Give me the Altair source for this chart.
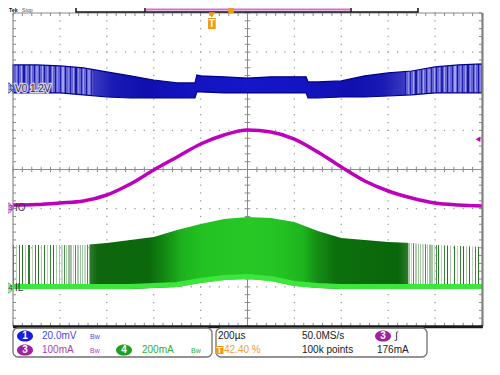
import altair as alt
import pandas as pd

PW, PH = 469, 313          # plot area (10 x 8 divisions)
T_SPAN = 2000.0            # 200 us/div x 10 div

# ---------------- waveform data ----------------
T_HALF_US = [0, 100, 200, 300, 400, 500, 600, 700, 800, 900, 1000,
             1100, 1200, 1300, 1400, 1500, 1600, 1700, 1800, 1900, 2000]

# Ch1 V0 ripple band (mV around the 1.2 V offset)
T_V0_US = [0, 100, 200, 300, 400, 500, 600, 700, 776, 784, 800, 900, 1000,
           1100, 1200, 1250, 1258, 1300, 1400, 1500, 1600, 1700, 1800, 1900, 2000]
V0_TOP_MV = [11.8, 11.8, 11.3, 10.3, 8.2, 6.2, 4.1, 2.6, 2.6, 6.7, 6.2, 5.7, 5.1,
             5.7, 5.7, 5.7, 3.1, 3.1, 3.6, 6.2, 7.7, 8.7, 10.8, 11.8, 12.3]
V0_BOT_MV = [-2.5, -2.5, -2.5, -3.5, -4.6, -5.1, -5.1, -5.1, -5.1, -2.0, -2.0, -2.5, -2.5,
             -2.5, -2.5, -2.5, -5.1, -5.1, -4.6, -4.6, -4.1, -3.5, -2.5, -2.5, -2.5]

# Ch3 I0 output current (mA)
I0_MA = [7.7, 8.9, 12.8, 17.9, 33.2, 61.3, 97.1, 130.4, 163.6, 186.6, 199.4,
         194.2, 176.3, 143.1, 104.8, 69.0, 43.5, 25.6, 12.8, 7.7, 5.1]

# Ch4 IL inductor current envelope (mA)
IL_TOP_MA = [219.8, 219.8, 219.8, 219.8, 230.0, 245.4, 260.7, 296.5, 327.2, 352.7, 362.9,
             357.8, 337.4, 291.4, 255.6, 245.4, 235.1, 230.0, 219.8, 214.7, 209.6]
IL_BOT_MA = [-5.1, -5.1, -5.1, -5.1, -5.1, -5.1, 0.0, 5.1, 25.5, 40.9, 46.0,
             35.8, 10.2, 0.0, -5.1, -5.1, -5.1, -5.1, -5.1, -5.1, -5.1]
IL_BASE_MA = [7.7, 7.7, 7.7, 7.7, 7.7, 7.7, 12.8, 17.9, 38.3, 53.7, 58.8,
              48.6, 23.0, 12.8, 7.7, 7.7, 7.7, 7.7, 7.7, 7.7, 7.7]

CH1_MV_DIV, CH1_POS = 20.0, 2.083
CH3_MA_DIV, CH3_POS = 100.0, -0.984
CH4_MA_DIV, CH4_POS = 200.0, -3.029
TRIG_LEVEL_MA = 176.0
TRIG_POS_PCT = 42.40

FONT = "Liberation Sans, Arial, sans-serif"

# page px -> data units (plot area starts at page 13,13)
def gx(px):
    return (px - 13) / PW * T_SPAN

def gy(py):
    return 4 - (py - 13) / PH * 8

XS = alt.Scale(domain=[0, T_SPAN], nice=False, zero=False)
YS = alt.Scale(domain=[-4, 4], nice=False, zero=False)

def ex(f="x"):
    return alt.X(f"{f}:Q", scale=XS, axis=None)

def ey(f="y"):
    return alt.Y(f"{f}:Q", scale=YS, axis=None)

# ---------------- tables ----------------
v0 = pd.DataFrame({"x": T_V0_US,
                   "top": [CH1_POS + v / CH1_MV_DIV for v in V0_TOP_MV],
                   "bot": [CH1_POS + v / CH1_MV_DIV for v in V0_BOT_MV]})
i0 = pd.DataFrame({"x": T_HALF_US, "y": [CH3_POS + v / CH3_MA_DIV for v in I0_MA]})
il = pd.DataFrame({"x": T_HALF_US,
                   "top": [CH4_POS + v / CH4_MA_DIV for v in IL_TOP_MA],
                   "bot": [CH4_POS + v / CH4_MA_DIV for v in IL_BOT_MA]})
ilb = pd.DataFrame({"x": T_HALF_US, "y": [CH4_POS + v / CH4_MA_DIV for v in IL_BASE_MA]})

minor_x = [i * 40 for i in range(51)]
minor_y = [round(-4 + 0.2 * i, 3) for i in range(41)]
major_x = [200 * i for i in range(1, 10) if i != 5]
major_y = [-3, -2, -1, 1, 2, 3]
dots = pd.DataFrame([(mx, my) for mx in major_x for my in minor_y] +
                    [(mx, my) for my in major_y for mx in minor_x], columns=["x", "y"])

tk = []
for mx in minor_x:
    tk.append((mx, mx, -0.07, 0.07))
    tk.append((mx, mx, 4, 3.92))
    tk.append((mx, mx, -4, -3.92))
for my in minor_y:
    tk.append((988, 1012, my, my))
    tk.append((0, 13, my, my))
    tk.append((1987, 2000, my, my))
tk.append((1000, 1000, -4, 4))
tk.append((0, 2000, 0, 0))
ticks = pd.DataFrame(tk, columns=["x", "x2", "y", "y2"])

frame = pd.DataFrame([
    (0, 0, -4, 4, "#8a8a8a", 1.2),
    (0, 2000, 4, 4, "#8a8a8a", 1.2),
    (2002, 2002, -4, 4, "#808080", 2.2),
    (0, 2004, -4.02, -4.02, "#1a1a1a", 3),
], columns=["x", "x2", "y", "y2", "c", "w"])

def G(stops):
    return alt.Gradient(gradient="linear", x1=0, x2=1, y1=0, y2=0,
                        stops=[alt.GradientStop(offset=min(max(p / PW, 0), 1), color=c) for p, c in stops])

GAP = "rgba(255,255,255,0)"

def stripes(a, b, period, width, colors, gap=GAP):
    out, p, i = [], a, 0
    while p + width <= b:
        c = colors[i % len(colors)]
        out += [(p, gap), (p, c), (p + width, c), (p + width, gap)]
        p += period
        i += 1
    return out

DARKS = ["#2E7A2E", "#B8D2B8", "#3A853A", "#2A742A", "#A9C9A9"]
PALES = ["#A5C5A5", "#C4DAC4", "#4E8E4E", "#B0CDB0", "#9ABF9A"]
green_stops = (stripes(0, 46, 3.1, 1.1, DARKS) + stripes(46, 77, 2.3, 1.4, PALES) +
               [(77, "#2A7A2A"), (85, "#0E660E"), (135, "#0B690B"), (150, "#128512"),
                (168, "#1DB01D"), (190, "#22C222"), (235, "#26C826"), (270, "#22C222"),
                (290, "#1EB41E"), (305, "#148C14"), (322, "#0C700C"), (385, "#0A660A"),
                (395, "#2A7A2A")] +
               stripes(395.5, 425, 2.3, 1.4, PALES) + stripes(425, 469, 3.1, 1.1, DARKS))
BL = ["#18189E", "#8C8CE6", "#2222B4", "#A4A4EC"]
blue_stops = (stripes(0, 80, 2.6, 1.2, BL, "#6464D6") +
              [(80, "#3A3AC4"), (100, "#1A1AB4"), (130, "#1010AE"), (180, "#1414C2"),
               (235, "#1616CA"), (290, "#1414C2"), (340, "#1010AE"), (370, "#1A1AB4"),
               (392, "#3A3AC4")] +
              stripes(392, 469, 2.6, 1.2, BL, "#6464D6"))

layers = []
layers.append(alt.Chart(dots).mark_square(size=1.6, color="#9a9a9a", opacity=1).encode(x=ex(), y=ey()))
layers.append(alt.Chart(ticks).mark_rule(color="#8a8a8a", strokeWidth=1).encode(
    x=ex(), x2=alt.X2("x2:Q"), y=ey(), y2=alt.Y2("y2:Q")))

layers.append(alt.Chart(v0).mark_area(fill=G(blue_stops), fillOpacity=1, stroke="#00008A",
                                      strokeWidth=1.2).encode(x=ex(), y=ey("top"), y2=alt.Y2("bot:Q")))
layers.append(alt.Chart(il).mark_area(fill=G(green_stops), fillOpacity=1).encode(
    x=ex(), y=ey("top"), y2=alt.Y2("bot:Q")))
layers.append(alt.Chart(ilb).mark_line(color="#3CE63C", strokeWidth=5).encode(x=ex(), y=ey()))
layers.append(alt.Chart(i0).mark_line(color="#BE00BE", strokeWidth=3.5, interpolate="monotone").encode(
    x=ex(), y=ey()))

layers.append(alt.Chart(frame).mark_rule().encode(
    x=ex(), x2=alt.X2("x2:Q"), y=ey(), y2=alt.Y2("y2:Q"),
    color=alt.Color("c:N", scale=None), size=alt.Size("w:Q", scale=None)))

# ---------------- annotations ----------------
boxes = pd.DataFrame([
    (gx(76), gx(418), gy(0.5), gy(12), 0),
    (gx(13), gx(212), gy(328), gy(357), 5),
    (gx(216), gx(427), gy(328), gy(357), 5),
], columns=["x", "x2", "y", "y2", "r"])
layers.append(alt.Chart(boxes[boxes.r == 0]).mark_rect(fillOpacity=0, stroke="#111111", strokeWidth=1.5).encode(
    x=ex(), x2=alt.X2("x2:Q"), y=ey(), y2=alt.Y2("y2:Q")))
layers.append(alt.Chart(boxes[boxes.r > 0]).mark_rect(fillOpacity=0, stroke="#707070", strokeWidth=1.3,
                                                      cornerRadius=5).encode(
    x=ex(), x2=alt.X2("x2:Q"), y=ey(), y2=alt.Y2("y2:Q")))
bar_lines = pd.DataFrame([
    (gx(145), gx(145), gy(0), gy(12), "#111111", 1.5),
    (gx(351), gx(351), gy(0), gy(12), "#111111", 1.5),
    (gx(146), gx(350), gy(9.5), gy(9.5), "#D070D0", 2),
], columns=["x", "x2", "y", "y2", "c", "w"])
layers.append(alt.Chart(bar_lines).mark_rule().encode(
    x=ex(), x2=alt.X2("x2:Q"), y=ey(), y2=alt.Y2("y2:Q"),
    color=alt.Color("c:N", scale=None), size=alt.Size("w:Q", scale=None)))

# channel markers on the left edge
TAG = "M-1,-0.7 L0.35,-0.7 L1,0 L0.35,0.7 L-1,0.7 Z"
markers = pd.DataFrame([
    (gx(7), CH1_POS, "1", "#A4B6EC", "#3050C8"),
    (gx(7), CH3_POS, "3", "#E2A4E2", "#C060C0"),
    (gx(7), CH4_POS, "4", "#A4E2A4", "#60C060"),
], columns=["x", "y", "t", "f", "s"])
layers.append(alt.Chart(markers).mark_point(shape=TAG, size=196, filled=True, opacity=1,
                                            strokeWidth=1).encode(
    x=ex(), y=ey(), fill=alt.Fill("f:N", scale=None), stroke=alt.Stroke("s:N", scale=None)))
num = markers.assign(x=gx(10.5))
layers.append(alt.Chart(num).mark_text(font=FONT, fontSize=8, align="center", baseline="middle",
                                       color="#404040").encode(x=ex(), y=ey(), text="t:N"))

# trigger markers
trig_x = TRIG_POS_PCT / 100 * T_SPAN
SHIELD = "M-0.7,-1 L0.7,-1 L0.7,1 L-0.7,1 Z"
trig = pd.DataFrame({"x": [trig_x], "y": [gy(23.5)]})
layers.append(alt.Chart(trig).mark_point(shape=SHIELD, size=121, filled=True, opacity=1,
                                         color="#F29A12").encode(x=ex(), y=ey()))
layers.append(alt.Chart(pd.DataFrame({"x": [trig_x], "y": [gy(15)]})).mark_point(
    shape="triangle-down", size=40, filled=True, opacity=1, color="#F29A12").encode(x=ex(), y=ey()))
layers.append(alt.Chart(trig).mark_text(text="T", font=FONT, fontSize=10, fontWeight="bold",
                                        color="white", align="center", baseline="middle").encode(x=ex(), y=ey()))
rb = pd.DataFrame({"x": [gx(231)], "y": [gy(10.5)]})
layers.append(alt.Chart(rb).mark_point(shape="square", size=30, filled=True, opacity=1,
                                       color="#F29A12").encode(x=ex(), y=ey()))
lvl = pd.DataFrame({"x": [gx(478)], "y": [CH3_POS + TRIG_LEVEL_MA / CH3_MA_DIV]})
layers.append(alt.Chart(lvl).mark_point(shape="triangle-left", size=30, filled=True, opacity=1,
                                        color="#BE00BE").encode(x=ex(), y=ey()))

# channel labels (V0 gets a light halo, as it sits on the ripple band)
lab = pd.DataFrame([("V0 1.2V", gx(15), gy(89))], columns=["t", "x", "y"])
layers.append(alt.Chart(lab).mark_text(font=FONT, fontSize=10, align="left", baseline="middle",
                                       color="#D4D4F4", stroke="#D4D4F4", strokeWidth=2.5).encode(
    x=ex(), y=ey(), text="t:N"))

TEXTS = [
    ("V0 1.2V", 15, 89, "#303030", 10),
    ("IO", 15, 208, "#303030", 10),
    ("IL", 15, 288, "#303030", 10),
    ("20.0mV", 42, 336, "#4848F0", 10),
    ("100mA", 42, 350, "#B040B0", 10),
    ("200mA", 142, 350, "#30B030", 10),
    ("200µs", 218, 336, "#202020", 10),
    ("42.40 %", 224, 350, "#F0A030", 10),
    ("50.0MS/s", 302, 336, "#202020", 10),
    ("100k points", 302, 350, "#202020", 10),
    ("176mA", 377, 350, "#202020", 10),
    ("∫", 395, 336, "#202020", 10),
    ("Bw", 90, 337, "#4848F0", 7),
    ("Bw", 90, 351, "#B040B0", 7),
    ("Bw", 191, 351, "#30B030", 7),
]
tx = pd.DataFrame([(t, gx(px), gy(py), c, s) for t, px, py, c, s in TEXTS],
                  columns=["t", "x", "y", "c", "s"])
layers.append(alt.Chart(tx).mark_text(font=FONT, align="left", baseline="middle").encode(
    x=ex(), y=ey(), text="t:N", color=alt.Color("c:N", scale=None), size=alt.Size("s:Q", scale=None)))

# top-left status, squeezed into the strip that lies inside the page
top_b = pd.DataFrame({"t": ["Tek"], "x": [gx(9)], "y": [gy(13.3)]})
top_n = pd.DataFrame({"t": ["Stop"], "x": [gx(22)], "y": [gy(13.3)]})
layers.append(alt.Chart(top_b).mark_text(font=FONT, fontSize=5.2, fontWeight="bold", align="left",
                                         baseline="bottom", color="#111111").encode(x=ex(), y=ey(), text="t:N"))
layers.append(alt.Chart(top_n).mark_text(font=FONT, fontSize=5.2, align="left", baseline="bottom",
                                         color="#505050").encode(x=ex(), y=ey(), text="t:N"))

# channel badges in the readout
ELL = "M-1,0 A1,0.7 0 1,0 1,0 A1,0.7 0 1,0 -1,0 Z"
badges = pd.DataFrame([
    ("1", gx(25), gy(336), "#1C1CE0"),
    ("3", gx(25), gy(350), "#A020A0"),
    ("4", gx(124), gy(350), "#1FA01F"),
    ("3", gx(383), gy(336), "#A020A0"),
], columns=["t", "x", "y", "f"])
layers.append(alt.Chart(badges).mark_point(shape=ELL, size=256, filled=True, opacity=1).encode(
    x=ex(), y=ey(), fill=alt.Fill("f:N", scale=None)))
layers.append(alt.Chart(badges).mark_text(font=FONT, fontSize=10, fontWeight="bold", color="white",
                                          align="center", baseline="middle").encode(x=ex(), y=ey(), text="t:N"))
tbox = pd.DataFrame({"x": [gx(219.5)], "y": [gy(350)]})
layers.append(alt.Chart(tbox).mark_point(shape="square", size=64, filled=True, opacity=1,
                                         color="#F29A12").encode(x=ex(), y=ey()))
layers.append(alt.Chart(tbox).mark_text(text="T", font=FONT, fontSize=9, fontWeight="bold", color="white",
                                        align="center", baseline="middle").encode(x=ex(), y=ey()))

chart = alt.layer(*layers).properties(
    width=PW, height=PH,
    padding={"left": 5, "top": 5, "right": 10, "bottom": 45},
    autosize=alt.AutoSizeParams(type="none"),
    background="white",
).configure_view(strokeWidth=0)

chart.save("out.html", embed_options={"renderer": "svg", "actions": False})
